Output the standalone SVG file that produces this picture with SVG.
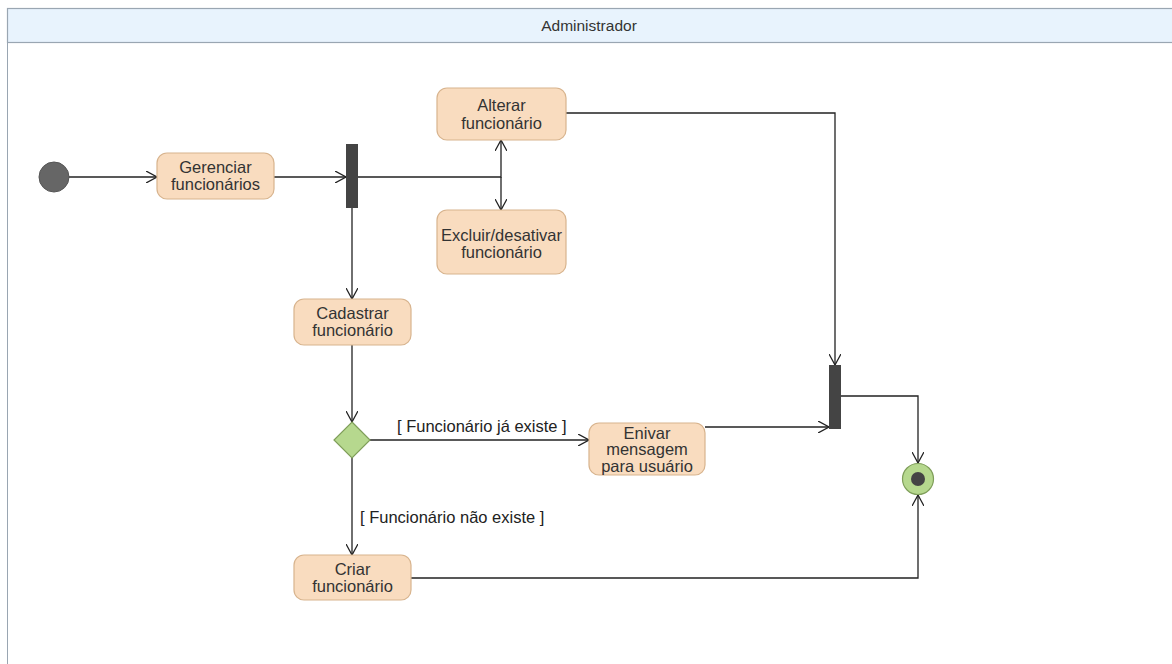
<svg xmlns="http://www.w3.org/2000/svg" width="1172" height="664" viewBox="0 0 1172 664">
<defs>
<style>
.act{fill:#f9dcbf;stroke:#d8b48e;stroke-width:1.2}
.t{font-family:"Liberation Sans",Arial,sans-serif;font-size:16.5px;fill:#333;text-anchor:middle}
.lbl{font-family:"Liberation Sans",Arial,sans-serif;font-size:16.5px;fill:#222}
.c{fill:none;stroke:#222;stroke-width:1.3}
.bar{fill:#444}
</style>
<marker id="arr" viewBox="0 0 12 12" refX="11" refY="6" markerWidth="12" markerHeight="12" markerUnits="userSpaceOnUse" orient="auto">
<path d="M0,0 L11,6 L0,12" fill="none" stroke="#222" stroke-width="1.3"/>
</marker>
</defs>
<rect x="0" y="0" width="1172" height="664" fill="#fff"/>
<g id="pool">
<rect x="7.5" y="8.5" width="1170" height="660" fill="#fff" stroke="#9aa6b2" stroke-width="1"/>
<rect x="7.5" y="8.5" width="1170" height="34" fill="#e8f3fd" stroke="#9aa6b2" stroke-width="1.2"/>
<text class="t" x="589" y="31" style="font-size:15.5px">Administrador</text>
</g>
<g id="connectors">
<path class="c" d="M69,177 H157" marker-end="url(#arr)"/>
<path class="c" d="M274,177 H346" marker-end="url(#arr)"/>
<path class="c" d="M358,177 H501 V140" marker-end="url(#arr)"/>
<path class="c" d="M501,177 V210" marker-end="url(#arr)"/>
<path class="c" d="M352,208 V299" marker-end="url(#arr)"/>
<path class="c" d="M352,345 V422" marker-end="url(#arr)"/>
<path class="c" d="M370,440 H589" marker-end="url(#arr)"/>
<path class="c" d="M352,458 V555" marker-end="url(#arr)"/>
<path class="c" d="M705,427 H829" marker-end="url(#arr)"/>
<path class="c" d="M566,113 H835 V365" marker-end="url(#arr)"/>
<path class="c" d="M841,396 H918 V463" marker-end="url(#arr)"/>
<path class="c" d="M411,578 H918 V495" marker-end="url(#arr)"/>
<text class="lbl" x="397" y="432">[ Funcionário já existe ]</text>
<text class="lbl" x="360" y="523">[ Funcionário não existe ]</text>
</g>
<g id="start"><circle cx="54" cy="177" r="15" fill="#666" stroke="#555"/></g>
<g id="gerenciar"><rect class="act" x="157" y="153" width="117" height="46" rx="10"/><text class="t" x="215.5" y="173">Gerenciar</text><text class="t" x="215.5" y="190">funcionários</text></g>
<g id="fork1"><rect class="bar" x="346" y="144" width="12" height="64"/></g>
<g id="alterar"><rect class="act" x="437" y="88" width="129" height="52" rx="10"/><text class="t" x="501.5" y="111">Alterar</text><text class="t" x="501.5" y="129">funcionário</text></g>
<g id="excluir"><rect class="act" x="437" y="210" width="129" height="64" rx="10"/><text class="t" x="501.5" y="241">Excluir/desativar</text><text class="t" x="501.5" y="258">funcionário</text></g>
<g id="cadastrar"><rect class="act" x="294" y="299" width="117" height="46" rx="10"/><text class="t" x="352.5" y="319">Cadastrar</text><text class="t" x="352.5" y="336">funcionário</text></g>
<g id="decision"><path d="M352,422 L370,440 L352,458 L334,440 Z" fill="#b6d88e" stroke="#7f9e5a" stroke-width="1.2"/></g>
<g id="enviar"><rect class="act" x="589" y="423" width="116" height="52" rx="10"/><text class="t" x="647" y="439">Enivar</text><text class="t" x="647" y="455">mensagem</text><text class="t" x="647" y="472">para usuário</text></g>
<g id="join"><rect class="bar" x="829" y="365" width="12" height="64"/></g>
<g id="criar"><rect class="act" x="294" y="555" width="117" height="45" rx="10"/><text class="t" x="352.5" y="575">Criar</text><text class="t" x="352.5" y="592">funcionário</text></g>
<g id="end"><circle cx="918" cy="479" r="15.5" fill="#b6d88e" stroke="#7f9e5a" stroke-width="1.2"/><circle cx="918" cy="479" r="7" fill="#444"/></g>
</svg>
